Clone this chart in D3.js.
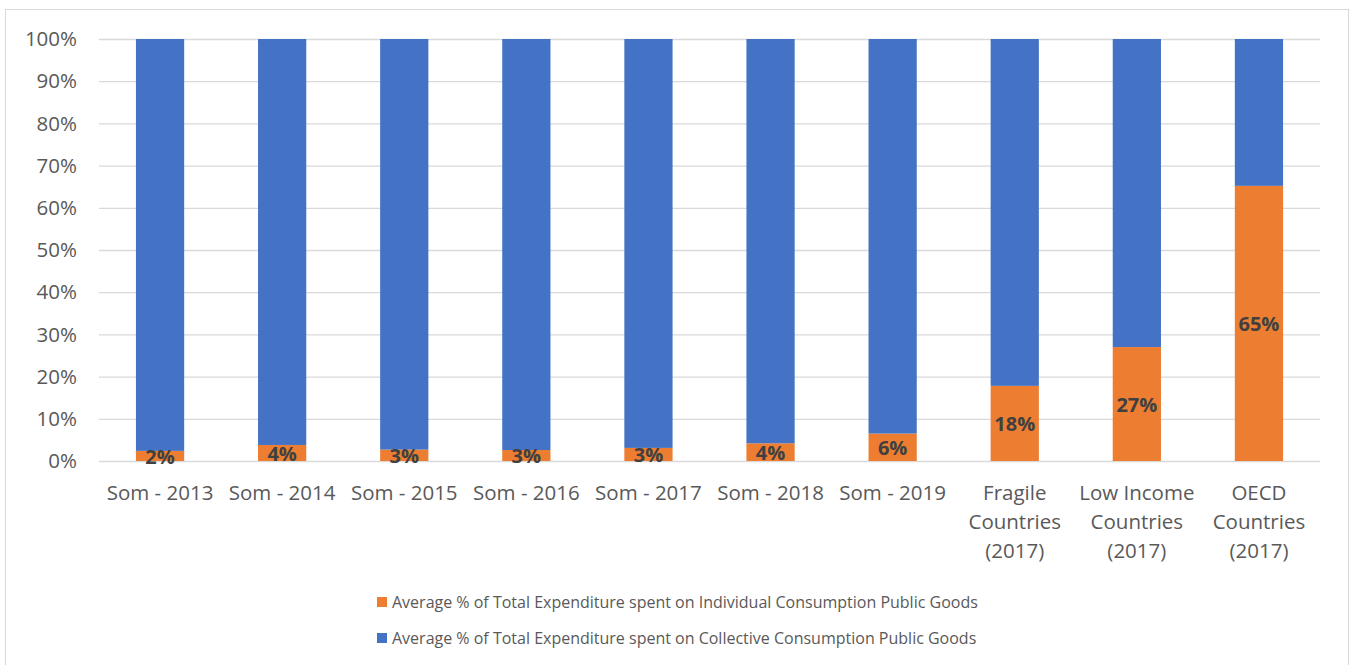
<!DOCTYPE html>
<html>
<head>
<meta charset="utf-8">
<script src="https://cdn.jsdelivr.net/npm/d3@7"></script>
<style>
  body { margin: 0; background: #fff; }
  svg { font-family: "Open Sans", "Noto Sans", sans-serif; }
</style>
</head>
<body>
<svg id="chart" width="1351" height="665"></svg>
<script>
// data
const categories = ["Som - 2013", "Som - 2014", "Som - 2015", "Som - 2016", "Som - 2017", "Som - 2018", "Som - 2019",
  "Fragile Countries (2017)", "Low Income Countries (2017)", "OECD Countries (2017)"];
const categoryLines = [["Som - 2013"], ["Som - 2014"], ["Som - 2015"], ["Som - 2016"], ["Som - 2017"], ["Som - 2018"], ["Som - 2019"],
  ["Fragile", "Countries", "(2017)"], ["Low Income", "Countries", "(2017)"], ["OECD", "Countries", "(2017)"]];
const individual = [2.4, 3.8, 2.7, 2.6, 3.1, 4.2, 6.5, 17.8, 27.0, 65.2];
const individualLabels = ["2%", "4%", "3%", "3%", "3%", "4%", "6%", "18%", "27%", "65%"];
const collective = individual.map(v => 100 - v);
const yTicks = [0, 10, 20, 30, 40, 50, 60, 70, 80, 90, 100];
const seriesNames = [
  "Average % of Total Expenditure spent on Individual Consumption Public Goods",
  "Average % of Total Expenditure spent on Collective Consumption Public Goods"
];

const colors = {orange: "#ED7D31", blue: "#4472C4", grid: "#D9D9D9", text: "#595959", label: "#404040"};

const svg = d3.select("#chart");

// outer chart border
svg.append("rect")
  .attr("x", 5.5).attr("y", 9.5)
  .attr("width", 1343).attr("height", 670)
  .attr("fill", "none").attr("stroke", colors.grid);

const x = d3.scaleBand().domain(categories).range([99, 1320]).paddingInner(0.605).paddingOuter(0.3025);
const y = d3.scaleLinear().domain([0, 100]).range([461, 39]);

// gridlines
svg.append("g").selectAll("line").data(yTicks).join("line")
  .attr("x1", 99).attr("x2", 1320)
  .attr("y1", d => y(d) + 0.5).attr("y2", d => y(d) + 0.5)
  .attr("stroke", colors.grid).attr("stroke-width", 1.3);

// y labels
svg.append("g").selectAll("text").data(yTicks).join("text")
  .attr("x", 77).attr("y", d => y(d))
  .attr("dy", "0.35em")
  .attr("text-anchor", "end")
  .attr("font-size", 20.5).attr("fill", colors.text)
  .text(d => d + "%");

// stacked bars
const rows = categories.map((c, i) => ({cat: c, individual: individual[i], collective: collective[i]}));
const stack = d3.stack().keys(["individual", "collective"])(rows);
const fills = [colors.orange, colors.blue];

svg.append("g").selectAll("g").data(stack).join("g")
  .attr("fill", (d, i) => fills[i])
  .selectAll("rect").data(d => d).join("rect")
  .attr("x", d => x(d.data.cat))
  .attr("width", x.bandwidth())
  .attr("y", d => y(d[1]))
  .attr("height", d => y(d[0]) - y(d[1]));

// data labels, centred in the orange segment
svg.append("g").selectAll("text").data(rows).join("text")
  .attr("x", d => x(d.cat) + x.bandwidth() / 2)
  .attr("y", d => y(d.individual / 2))
  .attr("dy", "0.38em")
  .attr("text-anchor", "middle")
  .attr("font-size", 20).attr("font-weight", "bold")
  .attr("fill", colors.label)
  .text((d, i) => individualLabels[i]);

// category labels
const catG = svg.append("g").selectAll("text").data(categories).join("text")
  .attr("x", d => x(d) + x.bandwidth() / 2)
  .attr("y", 500)
  .attr("text-anchor", "middle")
  .attr("font-size", 20.5).attr("fill", colors.text);
catG.selectAll("tspan").data((d, i) => categoryLines[i]).join("tspan")
  .attr("x", function () { return d3.select(this.parentNode).attr("x"); })
  .attr("dy", (d, i) => i === 0 ? 0 : 29)
  .text(d => d);

// legend
const legend = svg.append("g").selectAll("g").data(seriesNames).join("g")
  .attr("transform", (d, i) => `translate(377, ${602 + i * 36})`);
legend.append("rect")
  .attr("x", 0).attr("y", -5).attr("width", 10).attr("height", 10)
  .attr("fill", (d, i) => fills[i]);
legend.append("text")
  .attr("x", 15).attr("dy", "0.35em")
  .attr("font-size", 16).attr("fill", colors.text)
  .text(d => d);
</script>
</body>
</html>
